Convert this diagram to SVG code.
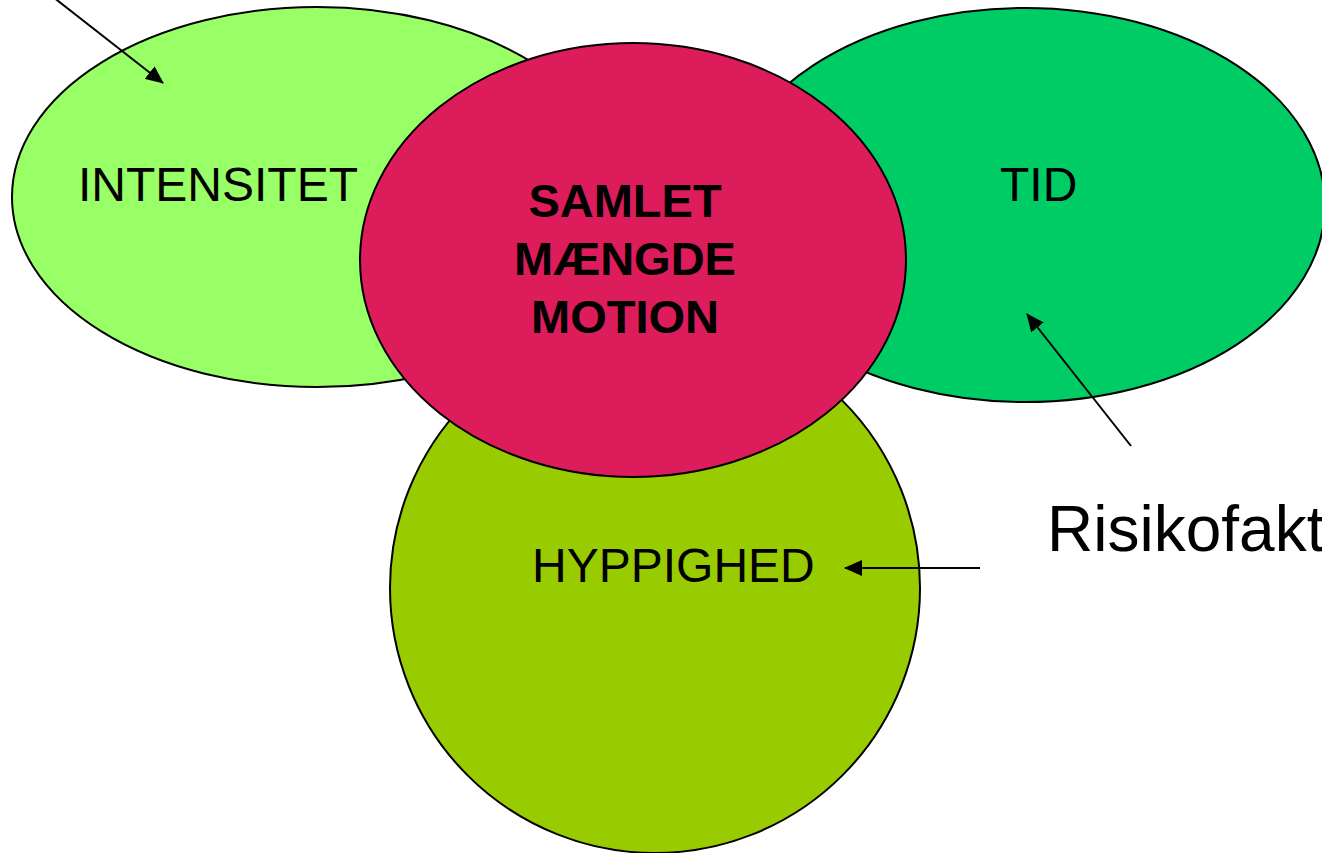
<svg xmlns="http://www.w3.org/2000/svg" width="1322" height="853" viewBox="0 0 1322 853">
  <style>
    .blob { stroke: #000; stroke-width: 2; }
    .lbl { font-family: "Liberation Sans", Arial, sans-serif; font-size: 48px; fill: #000; }
    .core { font-family: "Liberation Sans", Arial, sans-serif; font-size: 47px; font-weight: bold; fill: #000; text-anchor: middle; }
    .big { font-family: "Liberation Sans", Arial, sans-serif; font-size: 64px; fill: #000; }
    .arrow { stroke: #000; stroke-width: 2; fill: none; marker-end: url(#head); }
  </style>
  <defs>
    <marker id="head" viewBox="0 0 18 16" refX="17" refY="8" markerWidth="18" markerHeight="16" markerUnits="userSpaceOnUse" orient="auto">
      <path d="M0,0 L18,8 L0,16 Z" fill="#000"/>
    </marker>
  </defs>

  <rect width="1322" height="853" fill="#fff"/>

  <g id="intensitet">
    <ellipse class="blob" cx="317" cy="197" rx="305" ry="190" fill="#99FF66"/>
    <text class="lbl" x="78" y="201">INTENSITET</text>
  </g>

  <g id="tid">
    <ellipse class="blob" cx="1025" cy="205" rx="300" ry="197" fill="#00CC66"/>
    <text class="lbl" x="1000" y="201">TID</text>
  </g>

  <g id="hyppighed">
    <ellipse class="blob" cx="655" cy="588" rx="265" ry="265" fill="#99CC00"/>
    <text class="lbl" x="532" y="582">HYPPIGHED</text>
  </g>

  <g id="samlet">
    <ellipse class="blob" cx="633" cy="260" rx="273" ry="217" fill="#DC1C5B"/>
    <text class="core" x="625" y="217">SAMLET</text>
    <text class="core" x="625" y="275">MÆNGDE</text>
    <text class="core" x="625" y="333">MOTION</text>
  </g>

  <g id="risikofaktorer">
    <text class="big" x="1047" y="551">Risikofakt</text>
  </g>

  <g id="connectors">
    <line class="arrow" x1="30" y1="-21" x2="163" y2="83"/>
    <line class="arrow" x1="1131" y1="446" x2="1027" y2="314"/>
    <line class="arrow" x1="980" y1="568" x2="845" y2="568"/>
  </g>
</svg>
